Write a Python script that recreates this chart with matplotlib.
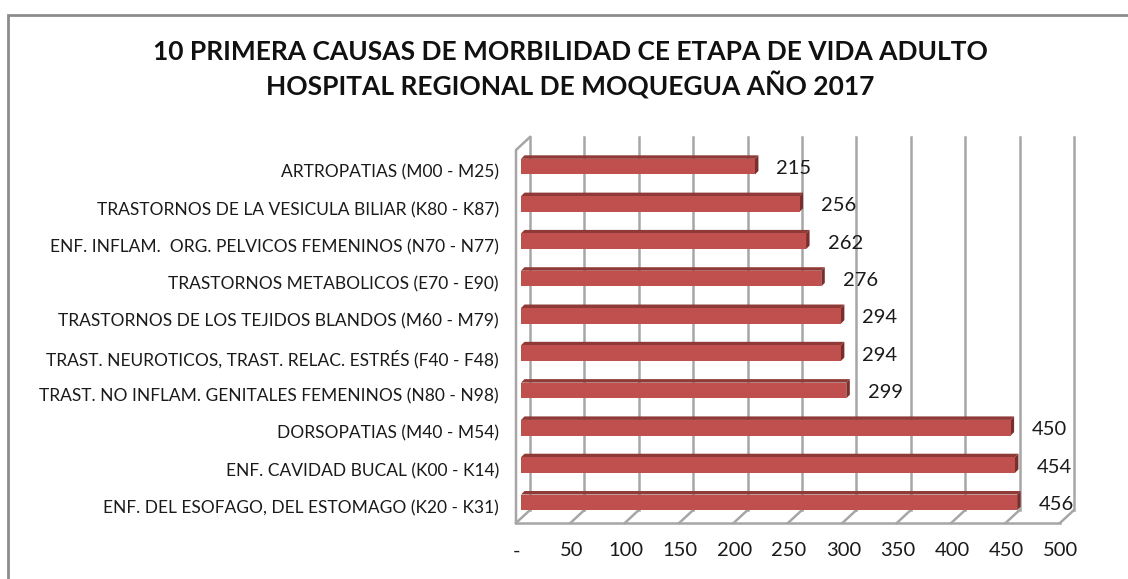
import matplotlib
matplotlib.use("Agg")
import matplotlib.pyplot as plt
from matplotlib.patches import Polygon, Rectangle
import numpy as np

# ---- data ----
categories = [
    "ARTROPATIAS (M00 - M25)",
    "TRASTORNOS DE LA VESICULA BILIAR (K80 - K87)",
    "ENF. INFLAM.  ORG. PELVICOS FEMENINOS (N70 - N77)",
    "TRASTORNOS METABOLICOS (E70 - E90)",
    "TRASTORNOS DE LOS TEJIDOS BLANDOS (M60 - M79)",
    "TRAST. NEUROTICOS, TRAST. RELAC. ESTRÉS (F40 - F48)",
    "TRAST. NO INFLAM. GENITALES FEMENINOS (N80 - N98)",
    "DORSOPATIAS (M40 - M54)",
    "ENF. CAVIDAD BUCAL (K00 - K14)",
    "ENF. DEL ESOFAGO, DEL ESTOMAGO (K20 - K31)",
]
values = [215, 256, 262, 276, 294, 294, 299, 450, 454, 456]
xticks = [0, 50, 100, 150, 200, 250, 300, 350, 400, 450, 500]
xticklabels = ["-", "50", "100", "150", "200", "250", "300", "350", "400", "450", "500"]
title = "10 PRIMERA CAUSAS DE MORBILIDAD CE ETAPA DE VIDA ADULTO\nHOSPITAL REGIONAL DE MOQUEGUA AÑO 2017"

W, H, DPI = 1128, 579, 100
FONT = "Lato"
plt.rcParams["font.family"] = [FONT, "DejaVu Sans"]

fig = plt.figure(figsize=(W / DPI, H / DPI), dpi=DPI)
fig.patch.set_facecolor("white")

# outer chart frame
fig.add_artist(Rectangle((8 / W, -0.1), 1.2, (H - 15) / H + 0.1, transform=fig.transFigure,
                         fill=False, edgecolor="#8c8c8c", linewidth=2))

# front plane of the plot area (pixels)
L, R, T, B = 516, 1060, 150, 523
ax = fig.add_axes([L / W, (H - B) / H, (R - L) / W, (B - T) / H])
ax.set_xlim(0, 500)
n = len(categories)
ax.set_ylim(-0.5, n - 0.5)
ax.axis("off")

ypos = np.arange(n)[::-1]  # first category at top

def px(x, y):
    return ax.transData.transform((x, y))

DX, DY = 14, 13          # depth of the 3D box (pixels, right / up)
grid_c = "#a6a6a6"

def line(pts, **kw):
    pts = np.array(pts)
    fig.add_artist(plt.Line2D(pts[:, 0] / W, pts[:, 1] / H, transform=fig.transFigure, **kw))

ymin, ymax = -0.5, n - 0.5
# gridlines on back wall + floor diagonals
for v in xticks:
    fb = px(v, ymin)
    bb = fb + np.array([DX, DY])
    bt = px(v, ymax) + np.array([DX, DY])
    line([bb, bt], color=grid_c, lw=1.8, zorder=1)
    line([fb, bb], color=grid_c, lw=1.8, zorder=1)
# front floor edge
line([px(0, ymin), px(500, ymin)], color=grid_c, lw=1.8, zorder=1)
# left wall front edge and top
line([px(0, ymin), px(0, ymax), px(0, ymax) + np.array([DX, DY])], color=grid_c, lw=1.8, zorder=1)

# bars (pseudo-3D)
BX, BY = 5, 2      # bar plane offset from front plane
bh = 0.42
td = 3.5           # top/side face depth (px)
face_c, top_c, side_c = "#c0504d", "#8f3a37", "#7a2e2c"
for y, v in zip(ypos, values):
    p0 = px(0, y - bh / 2) + np.array([BX, BY])
    p1 = px(v, y + bh / 2) + np.array([BX, BY])
    x0, yb = p0
    x1, yt = p1
    front = [(x0, yb), (x1, yb), (x1, yt), (x0, yt)]
    top = [(x0, yt), (x1, yt), (x1 + td, yt + td), (x0 + td, yt + td)]
    side = [(x1, yb), (x1 + td, yb + td), (x1 + td, yt + td), (x1, yt)]
    for poly, c in ((top, top_c), (side, side_c), (front, face_c)):
        pts = np.array(poly) / np.array([W, H])
        fig.add_artist(Polygon(pts, closed=True, transform=fig.transFigure,
                               facecolor=c, edgecolor="none", zorder=3))
    # value label
    lx, ly = px(v, y)
    fig.text((lx + BX + td + 18) / W, (ly + BY - 2) / H, str(v), ha="left", va="center",
             fontsize=14.5, color="#1a1a1a", zorder=4)

# category labels
for y, c in zip(ypos, categories):
    lx, ly = px(0, y)
    fig.text((lx - 17) / W, (ly - 4) / H, c, ha="right", va="center",
             fontsize=12.5, color="#1a1a1a")

# x tick labels
for v, t in zip(xticks, xticklabels):
    lx, ly = px(v, ymin)
    fig.text((lx + 1) / W, (ly - 28) / H, t, ha="center", va="center",
             fontsize=14.5, color="#1a1a1a")

# title
fig.text(570 / W, (H - 70) / H, title, ha="center", va="center", fontsize=19,
         fontweight="bold", color="#111111", linespacing=1.3)

fig.savefig("out.png", dpi=DPI, facecolor="white")
